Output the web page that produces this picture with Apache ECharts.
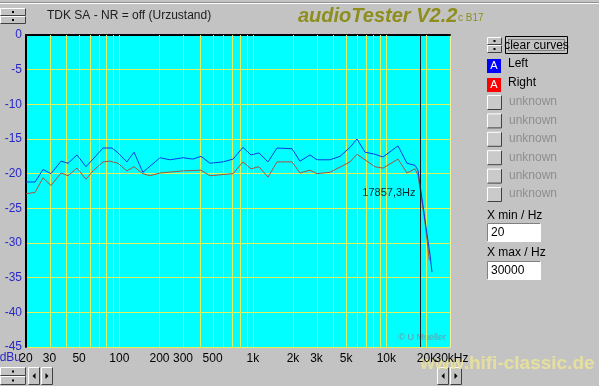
<!DOCTYPE html>
<html><head><meta charset="utf-8">
<script src="https://cdn.jsdelivr.net/npm/echarts@6/dist/echarts.min.js"></script>
<style>html,body{margin:0;padding:0;background:#c3c3c3;}#c{width:599px;height:386px;}</style>
</head><body><div id="c"></div>
<script>
// ---- data (frequency in Hz, level in dBu) ----
const freqLeft = [20, 23.4, 26.8, 30.8, 36.6, 41.3, 48.2, 56.3, 63.5, 75.5, 88.2, 97.8, 114, 129, 150, 202, 240, 300, 356, 409, 478, 598, 711, 844, 969, 1112, 1300, 1518, 1967, 2256, 2681, 3025, 3786, 4500, 5349, 6030, 6923, 8223, 9441, 12233, 14290, 16400, 17270, 19500, 21250, 22000];
const dbLeft = [-21.2, -21.2, -19.4, -20.0, -18.2, -18.5, -17.3, -19.0, -17.9, -16.3, -16.3, -17.0, -18.3, -16.9, -19.8, -17.7, -18.0, -17.7, -17.9, -17.5, -18.5, -18.3, -17.9, -16.2, -17.3, -17.0, -18.3, -16.3, -16.4, -18.2, -17.3, -18.0, -18.0, -17.5, -16.2, -15.0, -16.9, -17.2, -17.6, -16.0, -18.5, -18.8, -19.5, -26.7, -31.7, -34.2];
const freqRight = [20, 23.4, 26.8, 30.8, 36.6, 41.3, 48.2, 56.3, 63.5, 75.5, 85.2, 97.8, 114, 129, 150, 170, 202, 300, 409, 478, 711, 844, 969, 1112, 1300, 1518, 1967, 2256, 2681, 3025, 3786, 5349, 6030, 6923, 8223, 9441, 12233, 14290, 16400, 17270, 19500, 21000];
const dbRight = [-22.9, -22.7, -20.6, -21.7, -19.9, -20.3, -19.2, -20.8, -19.6, -18.3, -18.2, -18.5, -19.6, -19.0, -20.0, -20.3, -19.9, -19.6, -19.5, -20.3, -20.0, -18.3, -19.3, -19.0, -20.5, -18.3, -18.3, -19.9, -19.5, -20.0, -19.8, -18.3, -17.2, -18.0, -19.0, -19.2, -17.9, -19.9, -19.3, -20.2, -27.0, -32.5];
const gridFreqs = [30,40,50,60,70,80,90,100,200,300,400,500,600,700,800,900,1000,2000,3000,4000,5000,6000,7000,8000,9000,10000,20000];
const tickFreqs = [20,30,50,100,200,300,500,1000,2000,3000,5000,10000,20000];
const tickLabels = ['20','30','50','100','200','300','500','1k','2k','3k','5k','10k','20k'];
const lastTickFreq = 30000, lastTickLabel = '30kHz';
const xMinHz = 20, xMaxHz = 30000;
const yMin = -45, yMax = 0, yStep = 5;
const markerHz = 17857.3;
const markerText = '17857,3Hz';
const seriesNames = ['Left', 'Right'];
const unknownNames = ['unknown','unknown','unknown','unknown','unknown','unknown'];

const L = Math.log10;
const chart = echarts.init(document.getElementById('c'), null, {renderer:'canvas'});
const BG = '#c3c3c3';
const GRIDC = '#e2f25a';

function bevel(x,y,w,h,sunken,fill){
  const lt = sunken ? '#808080' : '#ffffff';
  const rb = sunken ? '#ffffff' : '#404040';
  return {type:'group', children:[
    {type:'rect', shape:{x:x,y:y,width:w,height:h}, style:{fill:fill||BG}},
    {type:'polyline', shape:{points:[[x+0.5,y+h-0.5],[x+0.5,y+0.5],[x+w-0.5,y+0.5]]}, style:{stroke:lt,lineWidth:1,fill:null}},
    {type:'polyline', shape:{points:[[x+0.5,y+h-0.5],[x+w-0.5,y+h-0.5],[x+w-0.5,y+0.5]]}, style:{stroke:rb,lineWidth:1,fill:null}}
  ]};
}
function txt(x,y,t,opt){
  return {type:'text', x:x, y:y, style:Object.assign({text:t, fontFamily:'Arial, Liberation Sans', fontSize:12, fill:'#000', verticalAlign:'middle', align:'left'}, opt||{})};
}
function spinner(x,y,w,h){
  const hh = h/2;
  return [bevel(x,y,w,hh), bevel(x,y+hh,w,hh),
    {type:'rect', shape:{x:x+w/2-1,y:y+hh/2-1,width:2,height:2}, style:{fill:'#000'}},
    {type:'rect', shape:{x:x+w/2-1,y:y+hh+hh/2-1,width:2,height:2}, style:{fill:'#000'}}];
}
function arrowBtn(x,y,w,h,dir){
  const cx = x+w/2, cy = y+h/2;
  const pts = dir<0 ? [[cx+1.5,cy-3],[cx+1.5,cy+3],[cx-1.5,cy]] : [[cx-1.5,cy-3],[cx-1.5,cy+3],[cx+1.5,cy]];
  return [bevel(x,y,w,h), {type:'polygon', shape:{points:pts}, style:{fill:'#000'}}];
}

const graphics = [];
graphics.push({type:'line', shape:{x1:0,y1:3.5,x2:599,y2:3.5}, style:{stroke:'#ffffff',lineWidth:1}});
graphics.push({type:'line', shape:{x1:0,y1:2.5,x2:599,y2:2.5}, style:{stroke:'#909090',lineWidth:1}});
graphics.push(...spinner(0,8,26,16));
graphics.push(txt(47,16,'TDK SA - NR = off (Urzustand)',{fill:'#202020'}));
graphics.push(txt(298,16,'audioTester V2.2',{fontSize:20,fontWeight:'bold',fontStyle:'italic',fill:'#8e8e1e'}));
graphics.push(txt(458,18,'c B17',{fontSize:10,fill:'#8e8e1e'}));
graphics.push(...spinner(487,37,15,16));
graphics.push({type:'rect', shape:{x:505.5,y:36.5,width:62,height:17}, style:{fill:BG,stroke:'#000',lineWidth:1}});
graphics.push({type:'rect', shape:{x:508.5,y:39.5,width:56,height:11}, style:{fill:null,stroke:'#404040',lineWidth:1,lineDash:[1,1]}});
graphics.push(txt(536.5,45.5,'clear curves',{align:'center'}));
graphics.push({type:'rect', shape:{x:487,y:59,width:14,height:14}, style:{fill:'#0000ff'}});
graphics.push(txt(494,66,'A',{align:'center',fill:'#fff',fontSize:11}));
graphics.push(txt(508,64,seriesNames[0]));
graphics.push({type:'rect', shape:{x:487,y:78,width:14,height:14}, style:{fill:'#ff0000'}});
graphics.push(txt(494,85,'A',{align:'center',fill:'#fff',fontSize:11}));
graphics.push(txt(508,83,seriesNames[1]));
unknownNames.forEach((n,i)=>{
  const y = 95 + i*18.4;
  graphics.push(bevel(487,y,15,15,false,'#cacaca'));
  graphics.push(txt(509,y+7,n,{fill:'#8e8e8e'}));
});
graphics.push(txt(487,216,'X min / Hz'));
graphics.push(bevel(487,223,54,19,true,'#ffffff'));
graphics.push(txt(491,233,String(xMinHz)));
graphics.push(txt(487,253,'X max / Hz'));
graphics.push(bevel(487,261,54,19,true,'#ffffff'));
graphics.push(txt(491,271,String(xMaxHz)));
graphics.push(...spinner(0,367,26,18));
graphics.push(...arrowBtn(28,367,12,18,-1));
graphics.push(...arrowBtn(41,367,12,18,1));
graphics.push(...arrowBtn(437,367,12,18,-1));
graphics.push(...arrowBtn(450,367,12,18,1));
graphics.push(txt(21,358,'dBu',{fill:'#2828c8',align:'right'}));
graphics.push(txt(420,364,'www.hifi-classic.de',{fontSize:19,fontWeight:'bold',fill:'rgba(236,228,150,0.85)'}));
graphics.push(txt(446,338,'\u00a9 U Mueller',{fontSize:9,fill:'#6a9aa8',align:'right'}));

const labelFont = {color:'#000', fontSize:12, fontFamily:'Arial, Liberation Sans', margin:6, hideOverlap:false};
const option = {
  backgroundColor: BG,
  animation: false,
  grid: {left:26, top:35, width:424, height:312, show:true, backgroundColor:'#00ffff', borderWidth:0},
  xAxis: [{
    type:'value', min:L(xMinHz), max:L(xMaxHz), position:'bottom',
    axisLine:{show:true, lineStyle:{color:GRIDC, width:1}},
    axisTick:{show:false}, splitLine:{show:false},
    axisLabel:Object.assign({customValues: tickFreqs.map(L), showMaxLabel:true, showMinLabel:true,
      formatter:(v)=>{ let bi=0, bd=1e9; tickFreqs.forEach((f,i)=>{const d=Math.abs(L(f)-v); if(d<bd){bd=d;bi=i;}}); return tickLabels[bi]; }}, labelFont)
  },{
    type:'value', min:L(xMinHz), max:L(xMaxHz), position:'top',
    axisLine:{show:true, lineStyle:{color:'#000', width:2}}, axisTick:{show:false}, axisLabel:{show:false}, splitLine:{show:false}
  },{
    type:'value', min:L(xMinHz), max:L(xMaxHz), position:'bottom',
    axisLine:{show:false}, axisTick:{show:false}, splitLine:{show:false},
    axisLabel:Object.assign({customValues:[L(lastTickFreq)], showMaxLabel:true, padding:[0,0,0,3], formatter:()=>lastTickLabel}, labelFont)
  }],
  yAxis: [{
    type:'value', min:yMin, max:yMax, interval:yStep, position:'left',
    axisLine:{show:true, lineStyle:{color:'#000', width:2}}, axisTick:{show:false},
    splitLine:{show:true, lineStyle:{color:GRIDC, width:1}},
    axisLabel:{color:'#2828c8', fontSize:12, fontFamily:'Arial, Liberation Sans', margin:4}
  },{
    type:'value', min:yMin, max:yMax, position:'right',
    axisLine:{show:true, lineStyle:{color:'#f4f8a0', width:1}}, axisTick:{show:false}, axisLabel:{show:false}, splitLine:{show:false}
  }],
  series: [
    {type:'custom', name:'vgrid', z:1, silent:true, clip:true,
     data: gridFreqs.map(f=>[L(f)]),
     encode:{x:0},
     renderItem:(params, api)=>{
       const top = api.coord([api.value(0), yMax]);
       const bot = api.coord([api.value(0), yMin]);
       const x = Math.round(top[0]) + 0.5;
       return {type:'line', shape:{x1:x, y1:top[1], x2:x, y2:bot[1]}, style:{stroke:GRIDC, lineWidth:1}};
     }},
    {type:'line', name:seriesNames[0], showSymbol:false, z:4, lineStyle:{color:'#0b3be6', width:1}, itemStyle:{color:'#0b3be6'},
     data: freqLeft.map((f,i)=>[L(f), dbLeft[i]])},
    {type:'line', name:seriesNames[1], showSymbol:false, z:3, lineStyle:{color:'#a4523e', width:1}, itemStyle:{color:'#a4523e'},
     data: freqRight.map((f,i)=>[L(f), dbRight[i]])},
    {type:'custom', name:'marker', z:5, silent:true,
     data:[[L(markerHz)]], encode:{x:0},
     renderItem:(params, api)=>{
       const top = api.coord([api.value(0), yMax]);
       const bot = api.coord([api.value(0), yMin]);
       const lab = api.coord([api.value(0), -22.8]);
       const x = Math.round(top[0]) + 0.5;
       return {type:'group', children:[
         {type:'line', shape:{x1:x, y1:top[1], x2:x, y2:bot[1]}, style:{stroke:'#0a1a1a', lineWidth:1}},
         {type:'text', x:x-5, y:lab[1], style:{text:markerText, align:'right', verticalAlign:'middle', fill:'#0a2a2a', fontSize:11, fontFamily:'Arial, Liberation Sans'}}
       ]};
     }}
  ],
  graphic: graphics
};
chart.setOption(option);
</script>
</body></html>
